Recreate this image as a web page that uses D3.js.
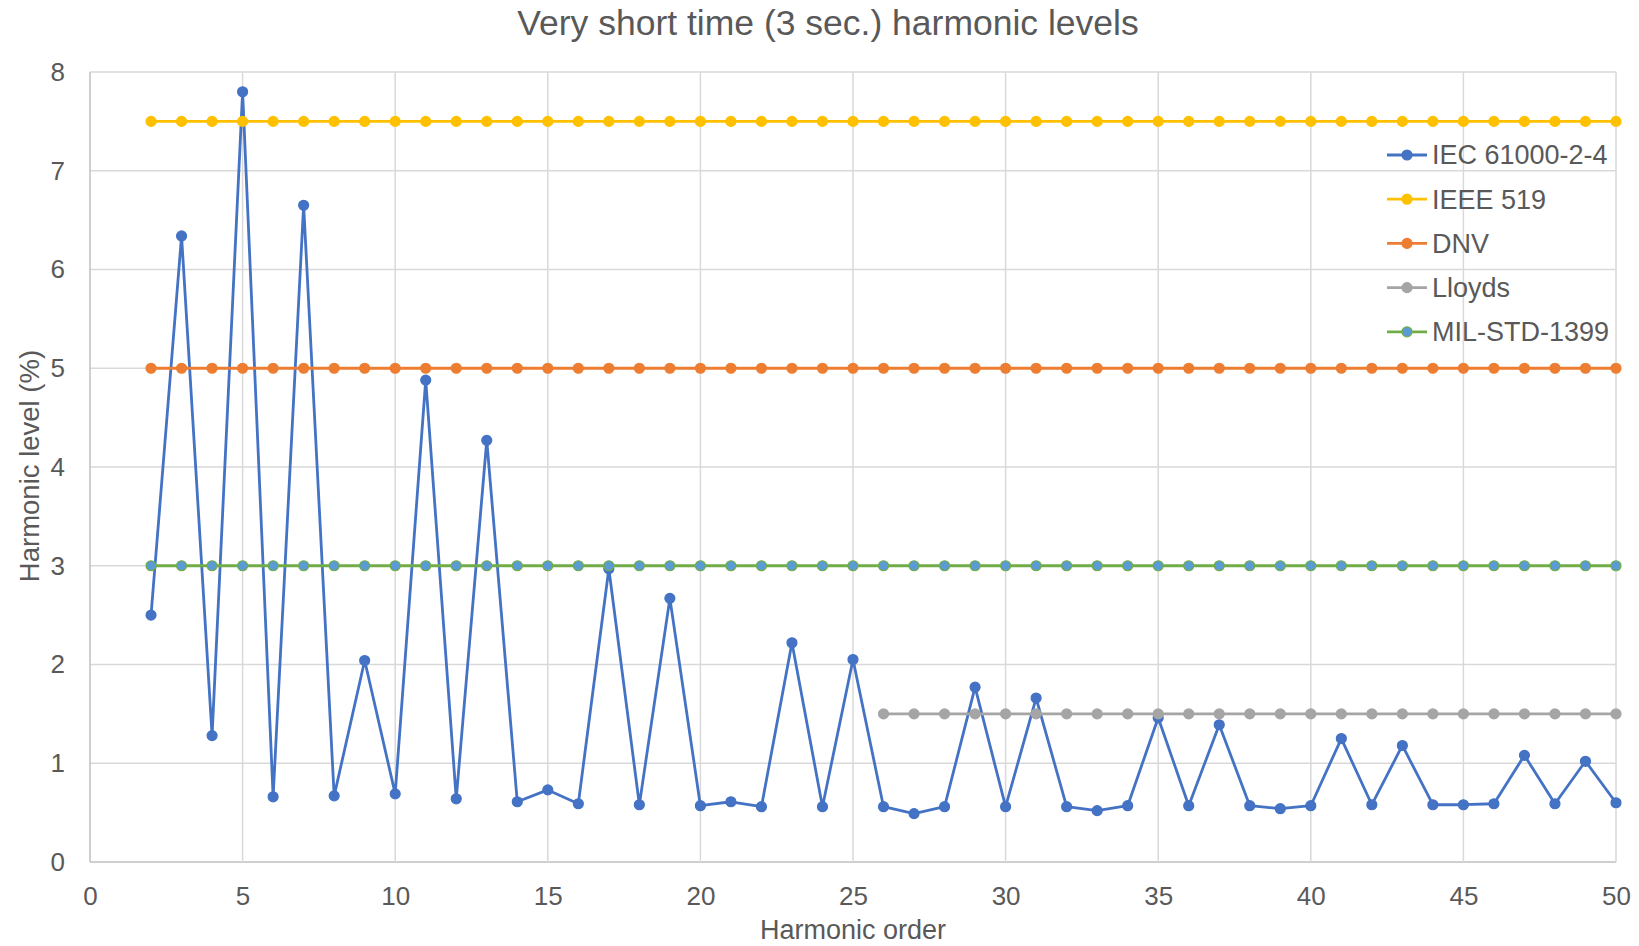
<!DOCTYPE html>
<html>
<head>
<meta charset="utf-8">
<script src="https://cdn.jsdelivr.net/npm/d3@7"></script>
<style>
    body { margin: 0; background: white; }
    text { font-family: "Liberation Sans", Arial, sans-serif; }
</style>
</head>
<body>
<div id="chart"></div>
<script>
// harmonic orders 2..50
var orders = d3.range(2, 51);
var iecValues = [2.50, 6.34, 1.28, 7.80, 0.66, 6.65, 0.67, 2.04, 0.69, 4.88,
                 0.64, 4.27, 0.61, 0.73, 0.59, 2.97, 0.58, 2.67, 0.57, 0.61,
                 0.56, 2.22, 0.56, 2.05, 0.56, 0.49, 0.56, 1.77, 0.56, 1.66,
                 0.56, 0.52, 0.57, 1.46, 0.57, 1.39, 0.57, 0.54, 0.57, 1.25,
                 0.58, 1.18, 0.58, 0.58, 0.59, 1.08, 0.59, 1.02, 0.60];
var ieeeValues = orders.map(function() { return 7.5; });
var dnvValues = orders.map(function() { return 5; });
var lloydsOrders = d3.range(26, 51);
var lloydsValues = lloydsOrders.map(function() { return 1.5; });
var milValues = orders.map(function() { return 3; });

var xTicks = [0, 5, 10, 15, 20, 25, 30, 35, 40, 45, 50];
var yTicks = [0, 1, 2, 3, 4, 5, 6, 7, 8];
var seriesNames = ["IEC 61000-2-4", "IEEE 519", "DNV", "Lloyds", "MIL-STD-1399"];

var w = 1639, h = 946;
var textColor = "#595959";
var gridColor = "#d9d9d9";

var series = [
    {name: seriesNames[0], x: orders, y: iecValues, line: "#4472c4", fill: "#4472c4", stroke: "#4472c4"},
    {name: seriesNames[1], x: orders, y: ieeeValues, line: "#ffc000", fill: "#ffc000", stroke: "#ffc000"},
    {name: seriesNames[2], x: orders, y: dnvValues, line: "#ed7d31", fill: "#ed7d31", stroke: "#ed7d31"},
    {name: seriesNames[3], x: lloydsOrders, y: lloydsValues, line: "#a5a5a5", fill: "#a5a5a5", stroke: "#a5a5a5"},
    {name: seriesNames[4], x: orders, y: milValues, line: "#70ad47", fill: "#5b9bd5", stroke: "#70ad47"}
];

var x = d3.scaleLinear().domain([0, 50]).range([90, 1616]);
var y = d3.scaleLinear().domain([0, 8]).range([862, 72]);

var svg = d3.select("#chart").append("svg").attr("width", w).attr("height", h);

// gridlines
svg.append("g").selectAll("line.h").data(yTicks).enter().append("line")
    .attr("x1", x(0)).attr("x2", x(50))
    .attr("y1", function(d) { return y(d); }).attr("y2", function(d) { return y(d); })
    .attr("stroke", function(d) { return d === 0 ? "#bfbfbf" : gridColor; })
    .attr("stroke-width", 1.5);
svg.append("g").selectAll("line.v").data(xTicks).enter().append("line")
    .attr("y1", y(0)).attr("y2", y(8))
    .attr("x1", function(d) { return x(d); }).attr("x2", function(d) { return x(d); })
    .attr("stroke", function(d) { return d === 0 ? "#bfbfbf" : gridColor; })
    .attr("stroke-width", 1.5);

// axes (labels only)
var xAxis = svg.append("g")
    .attr("transform", "translate(0," + y(0) + ")")
    .call(d3.axisBottom(x).tickValues(xTicks).tickSize(0).tickPadding(25));
var yAxis = svg.append("g")
    .attr("transform", "translate(" + x(0) + ",0)")
    .call(d3.axisLeft(y).tickValues(yTicks).tickSize(0).tickPadding(25));
[xAxis, yAxis].forEach(function(a) {
    a.select(".domain").remove();
    a.selectAll("text")
        .attr("font-family", "Liberation Sans, Arial, sans-serif")
        .attr("font-size", "26px")
        .attr("fill", textColor);
});

// series
var line = d3.line()
    .x(function(d) { return x(d[0]); })
    .y(function(d) { return y(d[1]); });

series.forEach(function(s) {
    var pts = s.x.map(function(v, i) { return [v, s.y[i]]; });
    var g = svg.append("g");
    g.append("path")
        .datum(pts)
        .attr("d", line)
        .attr("fill", "none")
        .attr("stroke", s.line)
        .attr("stroke-width", 2.8)
        .attr("stroke-linejoin", "round");
    g.selectAll("circle").data(pts).enter().append("circle")
        .attr("cx", function(d) { return x(d[0]); })
        .attr("cy", function(d) { return y(d[1]); })
        .attr("r", 5)
        .attr("fill", s.fill)
        .attr("stroke", s.stroke)
        .attr("stroke-width", 1.2);
});

// title
svg.append("text")
    .attr("x", 828)
    .attr("y", 35)
    .attr("text-anchor", "middle")
    .attr("font-size", "35.5px")
    .attr("fill", textColor)
    .text("Very short time (3 sec.) harmonic levels");

// axis titles
svg.append("text")
    .attr("x", 853)
    .attr("y", 939)
    .attr("text-anchor", "middle")
    .attr("font-size", "27px")
    .attr("fill", textColor)
    .text("Harmonic order");

svg.append("text")
    .attr("transform", "translate(39," + 466 + ") rotate(-90)")
    .attr("text-anchor", "middle")
    .attr("font-size", "27.5px")
    .attr("fill", textColor)
    .text("Harmonic level (%)");

// legend
var legend = svg.append("g").attr("transform", "translate(1387,155)");
series.forEach(function(s, i) {
    var row = legend.append("g").attr("transform", "translate(0," + (i * 44.2) + ")");
    row.append("line")
        .attr("x1", 0).attr("x2", 40)
        .attr("stroke", s.line)
        .attr("stroke-width", 2.8);
    row.append("circle")
        .attr("cx", 20).attr("r", 5)
        .attr("fill", s.fill)
        .attr("stroke", s.stroke)
        .attr("stroke-width", 1.2);
    row.append("text")
        .attr("x", 45)
        .attr("dy", "0.35em")
        .attr("font-size", "27px")
        .attr("fill", textColor)
        .text(s.name);
});
</script>
</body>
</html>
